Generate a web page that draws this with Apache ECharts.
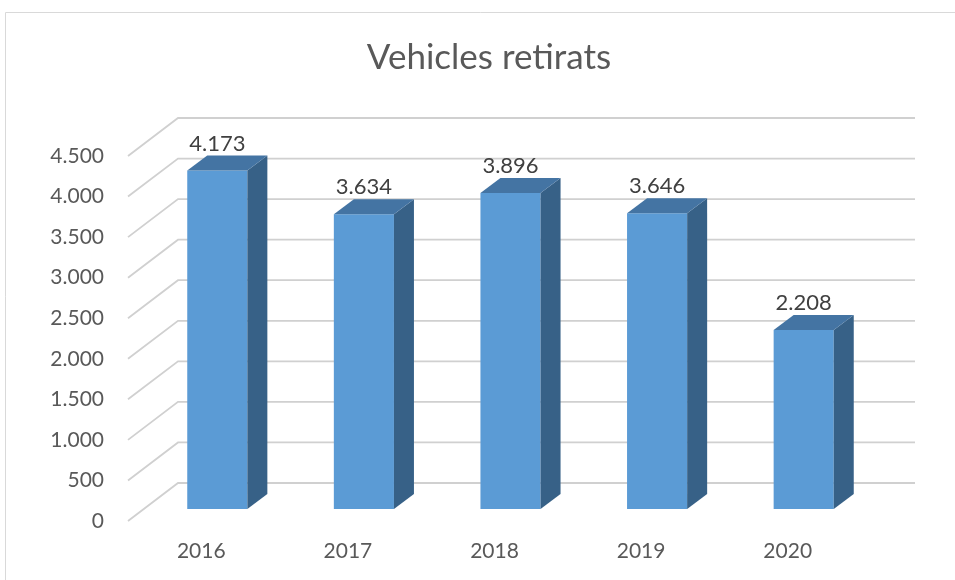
<!DOCTYPE html>
<html>
<head>
<meta charset="utf-8">
<script src="https://cdn.jsdelivr.net/npm/echarts@6/dist/echarts.min.js"></script>
<style>
  html, body { margin: 0; padding: 0; background: #fff; }
  #chart { width: 955px; height: 580px; }
</style>
</head>
<body>
<div id="chart"></div>
<script>
const years = ['2016', '2017', '2018', '2019', '2020'];
const vehicles = [4173, 3634, 3896, 3646, 2208];
const yTicks = [0, 500, 1000, 1500, 2000, 2500, 3000, 3500, 4000, 4500];

// perspective offsets (px): back wall and bar depth
const WALL_DX = 50, WALL_DY = -38;
const BAR_OX = 16, BAR_OY = -12;   // front face of bars sits a bit inside
const BAR_DX = 20, BAR_DY = -15;   // bar depth

const fmt = v => String(v).replace(/\B(?=(\d{3})+(?!\d))/g, '.');

let chart = echarts.init(document.getElementById('chart'));

let option = {
  animation: false,
  graphic: [
    {
      type: 'rect',
      shape: { x: 5.5, y: 12.5, width: 1000, height: 1000 },
      style: { fill: 'none', stroke: '#d9d9d9', lineWidth: 1 },
      silent: true
    },
    {
      type: 'text',
      x: 489, y: 58,
      style: {
        text: 'Vehicles retirats',
        font: '35px Lato',
        fill: '#595959',
        textAlign: 'center',
        textVerticalAlign: 'middle'
      }
    }
  ],
  grid: { left: 128, right: 94, top: 156, bottom: 59 },
  xAxis: {
    type: 'category',
    data: years,
    axisLine: { show: false },
    axisTick: { show: false },
    axisLabel: { color: '#595959', fontSize: 21, fontFamily: 'Lato', margin: 20 }
  },
  yAxis: {
    type: 'value',
    min: 0, max: 4500, interval: 500,
    splitLine: { show: false },
    axisLine: { show: false },
    axisTick: { show: false },
    axisLabel: {
      color: '#595959', fontSize: 21, fontFamily: 'Lato', margin: 24,
      formatter: v => fmt(v)
    }
  },
  series: [
    // back wall and floor lines
    {
      type: 'custom',
      silent: true,
      z: 1,
      data: yTicks.map(t => [0, t]),
      renderItem: (params, api) => {
        const cs = params.coordSys;
        const y = api.coord([0, api.value(1)])[1];
        return {
          type: 'polyline',
          shape: {
            points: [
              [cs.x, y],
              [cs.x + WALL_DX, y + WALL_DY],
              [cs.x + cs.width + WALL_DX + 4, y + WALL_DY]
            ]
          },
          style: { fill: 'none', stroke: '#d0d0d0', lineWidth: 1.8 }
        };
      }
    },
    // 3D bars
    {
      type: 'custom',
      z: 2,
      data: vehicles.map((v, i) => [i, v]),
      renderItem: (params, api) => {
        const i = api.value(0), v = api.value(1);
        const top = api.coord([i, v]);
        const base = api.coord([i, 0]);
        const w = api.size([1, 0])[0] * 0.41;
        const cx = top[0] + BAR_OX;
        const x0 = cx - w / 2, x1 = cx + w / 2;
        const yt = top[1] + BAR_OY, yb = base[1] + BAR_OY;
        return {
          type: 'group',
          children: [
            {
              type: 'rect',
              shape: { x: x0, y: yt, width: w, height: yb - yt },
              style: { fill: '#5b9bd5' }
            },
            {
              type: 'polygon',
              shape: { points: [[x1, yt], [x1 + BAR_DX, yt + BAR_DY], [x1 + BAR_DX, yb + BAR_DY], [x1, yb]] },
              style: { fill: '#376187' }
            },
            {
              type: 'polygon',
              shape: { points: [[x0, yt], [x0 + BAR_DX, yt + BAR_DY], [x1 + BAR_DX, yt + BAR_DY], [x1, yt]] },
              style: { fill: '#4474a3' }
            },
            {
              type: 'text',
              x: cx, y: yt + BAR_DY - 1,
              style: {
                text: fmt(v),
                font: '22px Lato',
                fill: '#404040',
                textAlign: 'center',
                textVerticalAlign: 'bottom'
              }
            }
          ]
        };
      }
    }
  ]
};

option && chart.setOption(option);
</script>
</body>
</html>
